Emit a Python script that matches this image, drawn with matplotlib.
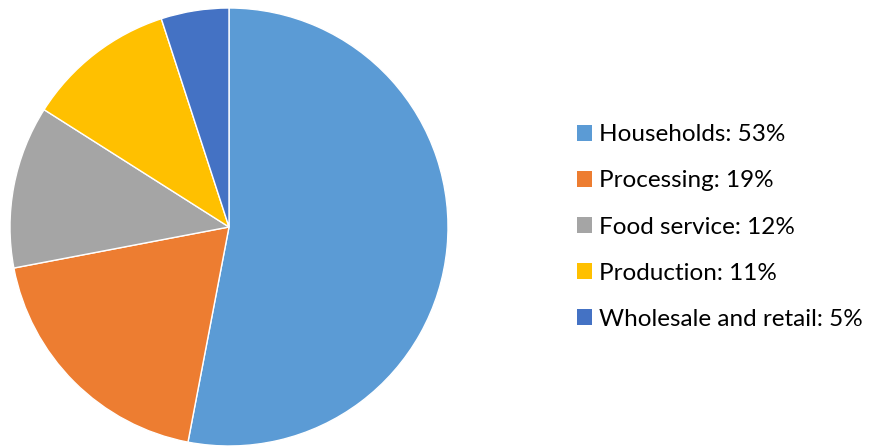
import matplotlib.pyplot as plt
from matplotlib.patches import Patch

labels = ['Households', 'Processing', 'Food service', 'Production', 'Wholesale and retail']
shares = [53, 19, 12, 11, 5]
colors = ['#5B9BD5', '#ED7D31', '#A5A5A5', '#FFC000', '#4472C4']

plt.rcParams['font.family'] = ['Lato', 'DejaVu Sans']

fig = plt.figure(figsize=(8.7, 4.46), dpi=100)
# square axes for the pie, 438 px wide
ax = fig.add_axes([10 / 870, 0.0 / 446, 438 / 870, 438 / 446])
ax.pie(shares, colors=colors, startangle=90, counterclock=False,
       wedgeprops={'edgecolor': 'white', 'linewidth': 1.0})
ax.set_xlim(-1, 1)
ax.set_ylim(-1, 1)
ax.set_aspect('equal')
ax.axis('off')

handles = [Patch(facecolor=c, edgecolor='none') for c in colors]
texts = ['{}: {}%'.format(l, s) for l, s in zip(labels, shares)]
fig.legend(handles, texts, loc='center left', bbox_to_anchor=(577 / 870, 1 - 227 / 446),
           frameon=False, fontsize=17.5, handlelength=0.6, handleheight=0.6,
           handletextpad=0.3, labelspacing=1.03, borderpad=0, borderaxespad=0)

fig.savefig('out.png', dpi=100)
